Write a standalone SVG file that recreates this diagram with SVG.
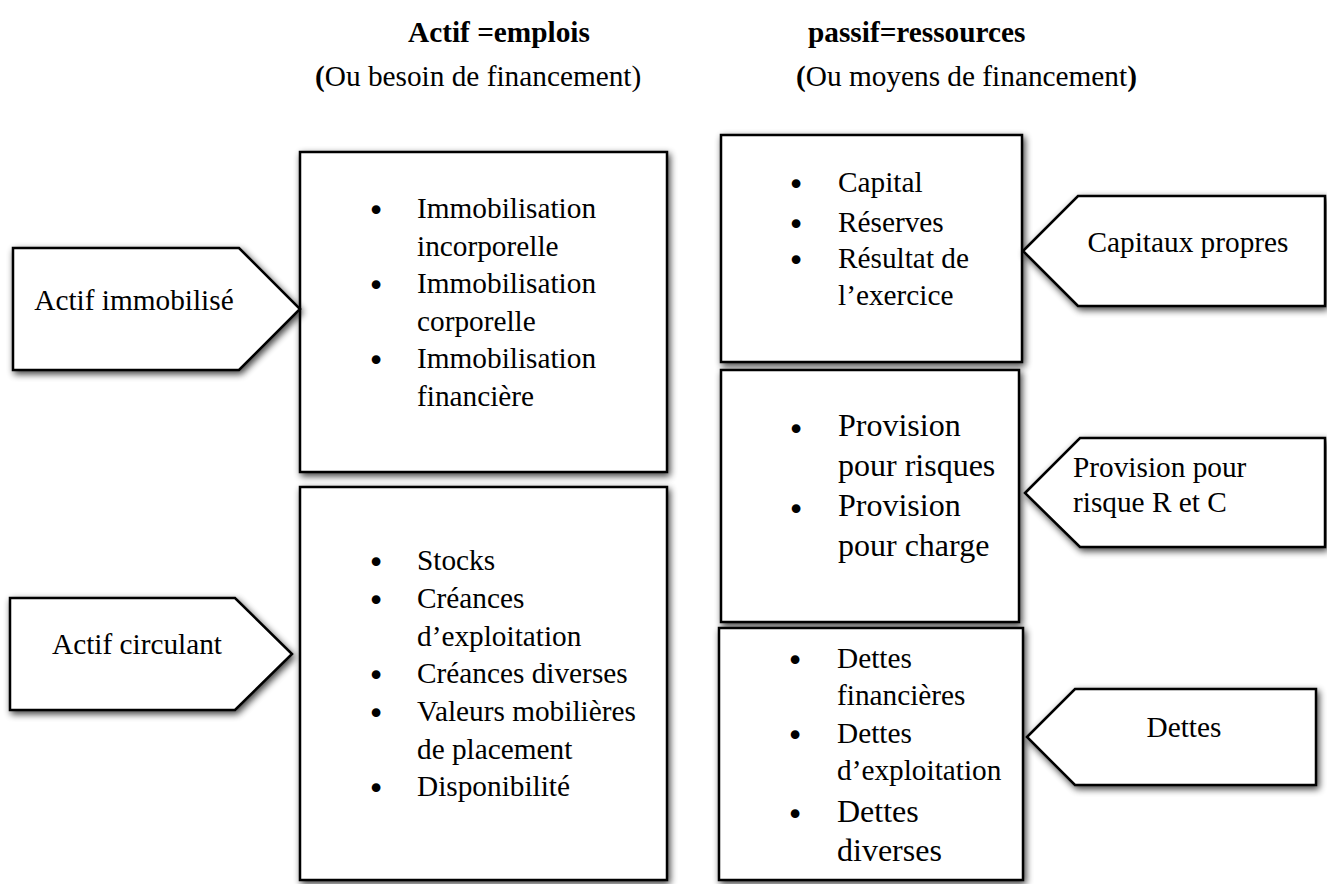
<svg xmlns="http://www.w3.org/2000/svg" width="1327" height="884" viewBox="0 0 1327 884" font-family="'Liberation Serif','Times New Roman',serif">
<defs>
<filter id="sh" x="-10%" y="-10%" width="120%" height="125%">
<feGaussianBlur in="SourceAlpha" stdDeviation="3.5"/>
<feOffset dx="2" dy="3" result="b"/>
<feComponentTransfer><feFuncA type="linear" slope="0.75"/></feComponentTransfer>
<feMerge><feMergeNode/><feMergeNode in="SourceGraphic"/></feMerge>
</filter>
<style>
.shape{fill:#fff;stroke:#000;stroke-width:2.5;filter:url(#sh)}
text{font-family:"Liberation Serif","Times New Roman",serif;fill:#000}
.t{font-size:29.3px}
.big{font-size:32px}
.h{font-size:29.3px;font-weight:bold}
.bul{font-family:"DejaVu Sans",sans-serif;font-size:30px;text-anchor:middle}
.c{text-anchor:middle}
</style>
</defs>
<rect width="1327" height="884" fill="#fff"/>
<g id="headers">
<text class="h" x="408" y="42">Actif =emplois</text>
<text class="t" x="315" y="86"><tspan font-weight="bold">(</tspan>Ou besoin de financement)</text>
<text class="h" x="808" y="42">passif=ressources</text>
<text class="t" x="796" y="86"><tspan font-weight="bold">(</tspan>Ou moyens de financement<tspan font-weight="bold">)</tspan></text>
</g>
<g id="connectors"></g>
<g id="box-immobilisations">
<rect class="shape" x="300" y="152" width="367" height="320"/>
<text class="bul" x="376" y="221">•</text><text class="t" x="417" y="218">Immobilisation</text>
<text class="t" x="417" y="255.5">incorporelle</text>
<text class="bul" x="376" y="296">•</text><text class="t" x="417" y="293">Immobilisation</text>
<text class="t" x="417" y="330.5">corporelle</text>
<text class="bul" x="376" y="371">•</text><text class="t" x="417" y="368">Immobilisation</text>
<text class="t" x="417" y="405.5">financière</text>
</g>
<g id="box-circulant">
<rect class="shape" x="300" y="487" width="367" height="393"/>
<text class="bul" x="376" y="573">•</text><text class="t" x="417" y="570">Stocks</text>
<text class="bul" x="376" y="611">•</text><text class="t" x="417" y="608">Créances</text>
<text class="t" x="417" y="645.5">d’exploitation</text>
<text class="bul" x="376" y="686">•</text><text class="t" x="417" y="683">Créances diverses</text>
<text class="bul" x="376" y="724">•</text><text class="t" x="417" y="721">Valeurs mobilières</text>
<text class="t" x="417" y="758.5">de placement</text>
<text class="bul" x="376" y="799">•</text><text class="t" x="417" y="796">Disponibilité</text>
</g>
<g id="actif-immobilise">
<polygon class="shape" points="13,248 239,248 300,309 239,370 13,370"/>
<text class="t c" x="134" y="310">Actif immobilisé</text>
</g>
<g id="actif-circulant">
<polygon class="shape" points="10,598 235,598 292,654 235,710 10,710"/>
<text class="t c" x="137" y="654">Actif circulant</text>
</g>
<g id="box-capitaux">
<rect class="shape" x="721" y="135" width="301" height="227"/>
<text class="bul" x="796" y="195">•</text><text class="t" x="838" y="192">Capital</text>
<text class="bul" x="796" y="235">•</text><text class="t" x="838" y="232">Réserves</text>
<text class="bul" x="796" y="271">•</text><text class="t" x="838" y="268">Résultat de</text>
<text class="t" x="838" y="305">l’exercice</text>
</g>
<g id="box-provisions">
<rect class="shape" x="721" y="370" width="298" height="252"/>
<text class="bul" x="796" y="440">•</text><text class="big" x="838" y="436">Provision</text>
<text class="big" x="838" y="476">pour risques</text>
<text class="bul" x="796" y="520">•</text><text class="big" x="838" y="516">Provision</text>
<text class="big" x="838" y="556">pour charge</text>
</g>
<g id="box-dettes">
<rect class="shape" x="719" y="628" width="304" height="252"/>
<text class="bul" x="795" y="671">•</text><text class="t" x="837" y="668">Dettes</text>
<text class="t" x="837" y="705">financières</text>
<text class="bul" x="795" y="746">•</text><text class="t" x="837" y="743">Dettes</text>
<text class="t" x="837" y="780">d’exploitation</text>
<text class="bul" x="795" y="825">•</text><text class="big" x="837" y="822">Dettes</text>
<text class="big" x="837" y="861">diverses</text>
</g>
<g id="capitaux-propres">
<polygon class="shape" points="1023,251 1078,196 1325,196 1325,306 1078,306"/>
<text class="t c" x="1188" y="252">Capitaux propres</text>
</g>
<g id="provision-rc">
<polygon class="shape" points="1025,493 1080,438 1325,438 1325,547 1080,547"/>
<text class="t" x="1073" y="477">Provision pour</text>
<text class="t" x="1073" y="512">risque R et C</text>
</g>
<g id="dettes">
<polygon class="shape" points="1027,737 1075,689 1316,689 1316,785 1075,785"/>
<text class="t c" x="1184" y="737">Dettes</text>
</g>
</svg>
